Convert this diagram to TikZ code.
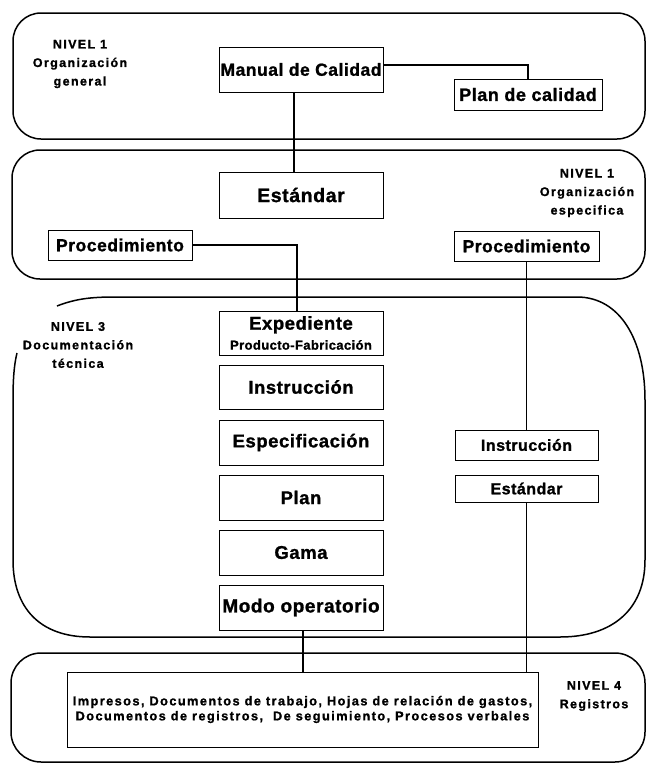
\documentclass[tikz,border=0pt]{standalone}
\usepackage{fontspec}
\setmainfont{Liberation Sans}[LetterSpace=3,BoldFeatures={FakeBold=1.2}]
\newfontfamily\nivfont{Liberation Sans}[LetterSpace=11,BoldFeatures={FakeBold=1.2}]
\newcommand{\fs}[1]{\fontsize{#1}{#1}\selectfont}
\begin{document}
\begin{tikzpicture}[x=1pt,y=-1pt,
  band/.style={draw, line width=1.5pt},
  box/.style={draw, line width=0.9pt, inner sep=0pt, align=center, font=\bfseries},
  conn/.style={draw, line width=1.2pt},
  niv/.style={align=center, inner sep=0pt, font=\nivfont\bfseries\fontsize{12.5}{18.5}\selectfont}]
\useasboundingbox (0,0) rectangle (647,764);
% bands
\draw[band, rounded corners=28pt] (13,13) rectangle (645,139);
\draw[band, rounded corners=28pt] (12,150) rectangle (645,279);
\draw[band] (57,306) .. controls (75,299) and (90,297) .. (115,297) -- (577,297)
  .. controls (620,297) and (645,340) .. (645,400) -- (645,560)
  .. controls (645,610) and (612,637) .. (560,637) -- (90,637)
  .. controls (40,637) and (13,608) .. (13,560) -- (13,400)
  .. controls (13,380) and (14,365) .. (17,353);
\draw[band, rounded corners=30pt] (11,653) rectangle (645,762);
% level labels
\node[niv] (n1) at (80,64) {NIVEL 1\\Organización\\general};
\node[niv] (n2) at (587,193) {NIVEL 1\\Organización\\especifica};
\node[niv] (n3) at (78,345) {NIVEL 3\\Documentación\\técnica};
\node[niv] (n4) at (594,696) {NIVEL 4\\Registros};
% boxes
\node[box, minimum width=164pt, minimum height=45pt, font=\bfseries\fs{17.5}] (manual) at (301,69.5) {Manual de Calidad};
\node[box, minimum width=148pt, minimum height=31pt, font=\bfseries\fs{18}] (plan1) at (528,94.5) {Plan de calidad};
\node[box, minimum width=164pt, minimum height=46pt, font=\bfseries\fs{19.5}] (est2) at (301,195) {Estándar};
\node[box, minimum width=144pt, minimum height=30pt, font=\bfseries\fs{17.5}] (procL) at (120,245) {Procedimiento};
\node[box, minimum width=145pt, minimum height=30pt, font=\bfseries\fs{17.5}] (procR) at (526.5,246) {Procedimiento};
\node[box, minimum width=164pt, minimum height=44pt, font=\bfseries\fontsize{13}{20}\selectfont] (exped) at (301,333) {{\fs{18.5}Expediente}\\Producto-Fabricación};
\node[box, minimum width=164pt, minimum height=44pt, font=\bfseries\fs{18.5}] (instrL) at (301,387) {Instrucción};
\node[box, minimum width=164pt, minimum height=45pt, font=\bfseries\fs{18.5}] (espec) at (301,442.5) {Especificación};
\node[box, minimum width=164pt, minimum height=45pt, font=\bfseries\fs{18.5}] (plan) at (301,497.5) {Plan};
\node[box, minimum width=164pt, minimum height=45pt, font=\bfseries\fs{18.5}] (gama) at (301,552.5) {Gama};
\node[box, minimum width=164pt, minimum height=45pt, font=\bfseries\fs{19}] (modo) at (301,607.5) {Modo operatorio};
\node[box, minimum width=143pt, minimum height=30pt, font=\bfseries\fs{16}] (instrR) at (526.5,445) {Instrucción};
\node[box, minimum width=143pt, minimum height=27pt, font=\bfseries\fs{16}] (estR) at (526.5,488.5) {Estándar};
\node[box, minimum width=471pt, minimum height=75pt, font=\nivfont\bfseries\fontsize{12.8}{15}\selectfont] (reg) at (302.5,709.5)
  {Impresos, Documentos de trabajo, Hojas de relación de gastos,\\Documentos de registros, \ De seguimiento, Procesos verbales};
% connectors
\draw[conn] ([xshift=-7pt]manual.south) -- ([xshift=-7pt]est2.north);
\draw[conn] ([yshift=4.5pt]manual.east) -| (plan1.north);
\draw[conn] (procL.east) -| ([xshift=-4pt]exped.north);
\draw[conn] (procR.south) -- (instrR.north);
\draw[conn] ([xshift=2pt]modo.south) -- ([xshift=2pt]modo.south |- reg.north);
\draw[conn] (estR.south) -- (estR.south |- reg.north);
\end{tikzpicture}
\end{document}
